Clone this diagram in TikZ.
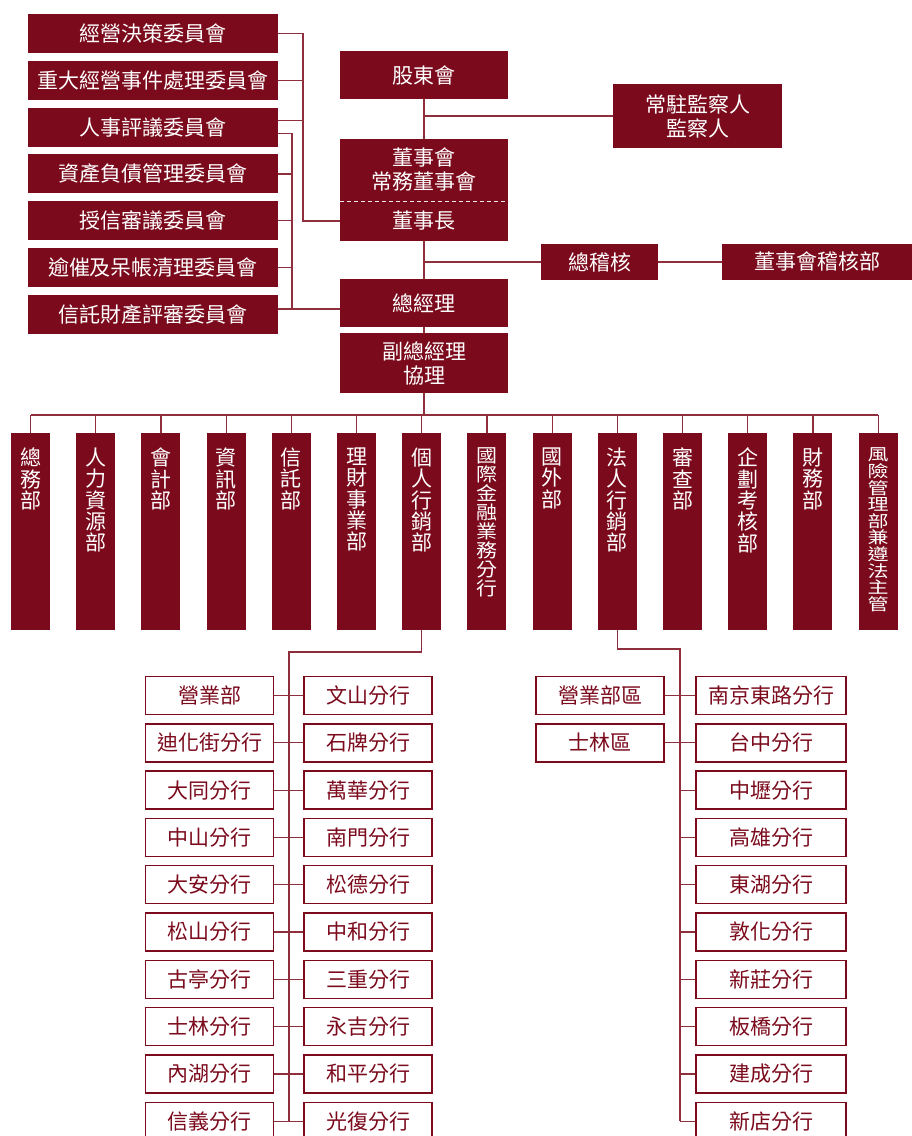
\documentclass[tikz,border=0pt]{standalone}
\usepackage{fontspec}
\setmainfont{Noto Sans CJK TC}
\usepackage{graphicx}
\definecolor{maroon}{RGB}{123,10,28}
\tikzset{
    conn/.style={draw=maroon!85!white, line width=1.2pt},
    redbox/.style={fill=maroon, text=white, inner sep=0pt, align=center,
        font=\fontsize{21}{24}\selectfont},
    cmte/.style={redbox, minimum width=250pt, minimum height=39pt},
    dept/.style={fill=maroon, inner sep=0pt, minimum width=39pt, minimum height=197pt},
    dtext/.style={anchor=north, text=white, inner sep=0pt,
        font=\fontsize{21}{21.3}\selectfont},
    branch/.style={draw=maroon, line width=1.4pt, fill=white, text=maroon, inner sep=0pt,
        minimum width=128pt, minimum height=38pt, font=\fontsize{21}{24}\selectfont},
}

\begin{document}
\begin{tikzpicture}[x=1pt, y=-1pt]
\useasboundingbox (0,0) rectangle (912,1136);

% committees
\foreach \i/\t in {1/經營決策委員會, 2/重大經營事件處理委員會, 3/人事評議委員會,
    4/資產負債管理委員會, 5/授信審議委員會, 6/逾催及呆帳清理委員會, 7/信託財產評審委員會}
    \node[cmte] (c\i) at (153, {33.5+46.83*(\i-1)}) {\t};

% main column
\node[redbox, minimum width=168pt, minimum height=48pt] (gudong) at (424,75) {股東會};
\node[redbox, minimum width=169pt, minimum height=64pt] (jiancha) at (697.5,116) {常駐監察人\\監察人};
\node[redbox, minimum width=168pt, minimum height=62pt] (board) at (424,170) {董事會\\常務董事會};
\node[redbox, minimum width=168pt, minimum height=40pt] (chair) at (424,221) {董事長};
\draw[white!90!maroon, dash pattern=on 4pt off 3pt, line width=1.2pt] (board.south west) -- (board.south east);
\node[redbox, minimum width=117pt, minimum height=36pt] (zjh) at (599.5,262) {總稽核};
\node[redbox, minimum width=190pt, minimum height=36pt] (audit) at (817,262) {董事會稽核部};
\node[redbox, minimum width=168pt, minimum height=48pt] (gm) at (424,303) {總經理};
\node[redbox, minimum width=168pt, minimum height=60pt] (vgm) at (424,363) {副總經理\\協理};

\draw[conn] (gudong.south) -- (board.north);
\draw[conn] (jiancha.west) -- (jiancha.west -| gudong.south);
\draw[conn] (chair.south) -- (gm.north);
\draw[conn] (zjh.west) -- (zjh.west -| chair.south);
\draw[conn] (zjh.east) -- (audit.west);
\draw[conn] (gm.south) -- (vgm.north);

% committee trunks
\coordinate (t1) at (303,0);
\coordinate (t2) at (292,0);
\coordinate (c3a) at ([yshift=7pt]c3.east);
\coordinate (c3b) at ([yshift=-6pt]c3.east);
\coordinate (g1) at ([yshift=5.5pt]c7.east);
\draw[conn] (c1.east) -| (t1 |- chair.west) -- (chair.west);
\draw[conn] (c2.east) -- (c2.east -| t1);
\draw[conn] (c3a) -- (c3a -| t1);
\draw[conn] (c3b) -| (t2 |- g1);
\draw[conn] (g1) -- (gm.west |- g1);
\foreach \i in {4,5,6}
    \draw[conn] (c\i.east) -- (c\i.east -| t2);

% departments
\foreach \i/\t/\s in {1/{總\\務\\部}/1, 2/{人\\力\\資\\源\\部}/1, 3/{會\\計\\部}/1,
    4/{資\\訊\\部}/1, 5/{信\\託\\部}/1, 6/{理\\財\\事\\業\\部}/1, 7/{個\\人\\行\\銷\\部}/1,
    8/{國\\際\\金\\融\\業\\務\\分\\行}/0.89, 9/{國\\外\\部}/1, 10/{法\\人\\行\\銷\\部}/1,
    11/{審\\查\\部}/1, 12/{企\\劃\\考\\核\\部}/1, 13/{財\\務\\部}/1,
    14/{風\\險\\管\\理\\部\\兼\\遵\\法\\主\\管}/0.78}
{
    \node[dept] (d\i) at ({30.5+65.2*(\i-1)}, 531.5) {};
    \node[dtext] (d\i t) at ([yshift=-15pt]d\i.north) {\scalebox{1}[\s]{\parbox{21pt}{\centering \t}}};
}
\coordinate (bus) at (424,415);
\draw[conn] (vgm.south) -- (bus);
\draw[conn] (d1.north |- bus) -- (d14.north |- bus);
\foreach \i in {1,...,14}
    \draw[conn] (d\i.north) -- (d\i.north |- bus);

% branches under 個人行銷部
\foreach \i/\a/\b in {1/營業部/文山分行, 2/迪化街分行/石牌分行, 3/大同分行/萬華分行,
    4/中山分行/南門分行, 5/大安分行/松德分行, 6/松山分行/中和分行, 7/古亭分行/三重分行,
    8/士林分行/永吉分行, 9/內湖分行/和平分行, 10/信義分行/光復分行}
{
    \node[branch] (L\i) at (209.5, {695.5+47.3*(\i-1)}) {\a};
    \node[branch] (R\i) at (368, {695.5+47.3*(\i-1)}) {\b};
    \draw[conn] (L\i.east) -- (R\i.west);
}
\coordinate (lt) at (289,652);
\draw[conn] (d7.south) |- (lt) -- (lt |- L10.east);

% branches under 法人行銷部
\foreach \i/\b in {1/南京東路分行, 2/台中分行, 3/中壢分行, 4/高雄分行, 5/東湖分行,
    6/敦化分行, 7/新莊分行, 8/板橋分行, 9/建成分行, 10/新店分行}
    \node[branch, minimum width=150pt] (Q\i) at (771, {695.5+47.3*(\i-1)}) {\b};
\node[branch] (P1) at (600,695.5) {營業部區};
\node[branch] (P2) at (600,742.8) {士林區};
\coordinate (rt) at (680,649);
\draw[conn] (d10.south) |- (rt) -- (rt |- Q10.west);
\draw[conn] (P1.east) -- (Q1.west);
\draw[conn] (P2.east) -- (Q2.west);
\foreach \i in {3,...,10}
    \draw[conn] (Q\i.west) -- (Q\i.west -| rt);
\end{tikzpicture}
\end{document}
